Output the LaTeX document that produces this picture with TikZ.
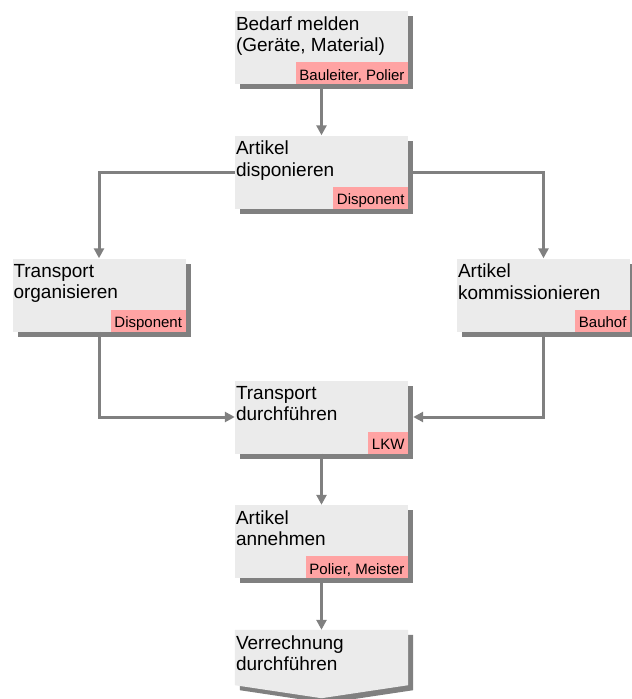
\documentclass[tikz,border=0pt]{standalone}
\usepackage{fontspec}
\setmainfont{Liberation Sans}
\usetikzlibrary{arrows.meta,shadows,backgrounds}
\definecolor{boxgray}{HTML}{EBEBEB}
\definecolor{shadowgray}{HTML}{808080}
\definecolor{rolepink}{HTML}{FFA3A3}
\begin{document}
\begin{tikzpicture}[x=1pt, y=-1pt,
    stepbox/.style={rectangle, fill=boxgray, minimum width=173pt, minimum height=73pt, inner sep=0pt,
        drop shadow={shadow xshift=5pt, shadow yshift=-5pt, fill=shadowgray, opacity=1}},
    steptext/.style={anchor=north west, inner xsep=1pt, inner ysep=5.5pt, align=left,
        font=\fontsize{19}{21.5}\selectfont},
    role/.style={anchor=south east, fill=rolepink, inner xsep=3.5pt, inner ysep=0pt, minimum height=22pt,
        text height=14pt, text depth=0pt, font=\fontsize{15}{17}\selectfont},
    conn/.style={draw=shadowgray, line width=3pt, -{Triangle[width=10pt,length=10pt]}}]

    \useasboundingbox (0,0) rectangle (632,699);

    % Define the process steps
    \node[stepbox] (bedarf) at (321.5, 47.5) {};
    \node[steptext] (bedarftext) at (bedarf.north west) {Bedarf melden\\(Geräte, Material)};
    \node[role] (bedarfrole) at (bedarf.south east) {Bauleiter, Polier};

    \node[stepbox] (dispo) at (321.5, 172) {};
    \node[steptext] (dispotext) at (dispo.north west) {Artikel\\disponieren};
    \node[role] (disporole) at (dispo.south east) {Disponent};

    \node[stepbox] (transorg) at (99, 295) {};
    \node[steptext] (transorgtext) at (transorg.north west) {Transport\\organisieren};
    \node[role] (transorgrole) at (transorg.south east) {Disponent};

    \node[stepbox] (kommiss) at (543.5, 295) {};
    \node[steptext] (kommisstext) at (kommiss.north west) {Artikel\\kommissionieren};
    \node[role] (kommissrole) at (kommiss.south east) {Bauhof};

    \node[stepbox] (durchf) at (321.5, 417) {};
    \node[steptext] (durchftext) at (durchf.north west) {Transport\\durchführen};
    \node[role] (durchfrole) at (durchf.south east) {LKW};

    \node[stepbox] (annehmen) at (321.5, 541.5) {};
    \node[steptext] (annehmentext) at (annehmen.north west) {Artikel\\annehmen};
    \node[role] (annehmenrole) at (annehmen.south east) {Polier, Meister};

    % Define the last step (chevron)
    \node[rectangle, minimum width=173pt, minimum height=55pt, inner sep=0pt] (verrech) at (321.5, 657.5) {};
    \node[steptext] (verrechtext) at (verrech.north west) {Verrechnung\\durchführen};
    \begin{scope}[on background layer]
        \fill[shadowgray, transform canvas={xshift=5pt, yshift=-5pt}] (verrech.north west) -- (verrech.north east)
            -- (verrech.south east) -- ([yshift=-13pt]verrech.south) -- (verrech.south west) -- cycle;
        \fill[boxgray] (verrech.north west) -- (verrech.north east) -- (verrech.south east)
            -- ([yshift=-13pt]verrech.south) -- (verrech.south west) -- cycle;
    \end{scope}

    % Draw the connectors
    \draw[conn] (bedarf.south) -- (dispo.north);
    \draw[conn] (dispo.west) -| (transorg.north);
    \draw[conn] (dispo.east) -| (kommiss.north);
    \draw[conn] (transorg.south) |- (durchf.west);
    \draw[conn] (kommiss.south) |- ([xshift=5pt]durchf.east);
    \draw[conn] (durchf.south) -- (annehmen.north);
    \draw[conn] (annehmen.south) -- (verrech.north);

\end{tikzpicture}
\end{document}
